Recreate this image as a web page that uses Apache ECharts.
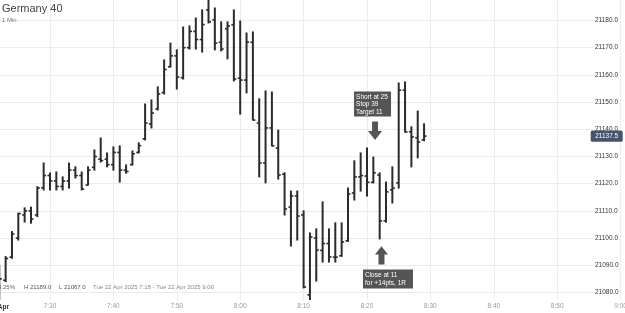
<!DOCTYPE html>
<html><head><meta charset="utf-8">
<script src="https://cdn.jsdelivr.net/npm/echarts@6/dist/echarts.min.js"></script>
<style>html,body{margin:0;padding:0;background:#fff}#c{width:625px;height:313px}</style>
</head><body><div id="c"></div>
<script>
// minutes after 7:00 (22 = 7:22 ... 89 = 8:29)
const minutes = [22,23,24,25,26,27,28,29,30,31,32,33,34,35,36,37,38,39,40,41,42,43,44,45,46,47,48,49,50,51,52,53,54,55,56,57,58,59,60,61,62,63,64,65,66,67,68,69,70,71,72,73,74,75,76,77,78,79,80,81,82,83,84,85,86,87,88,89];
const opens  = [21072,21084.5,21093,21100,21108.5,21110,21108.5,21118.5,21123,21121,21119,21121,21125,21123,21119.5,21126,21129,21129,21127,21131.5,21125,21127,21131.5,21136.5,21142,21147.5,21153.5,21163,21167,21159,21170,21176,21173,21183.9,21180.2,21172,21177,21178.4,21158.8,21158.1,21172,21142.3,21127.6,21140.5,21133.1,21123.5,21111.4,21115.5,21108.5,21079.1,21100,21095.5,21098,21093,21093.5,21099,21116.6,21122.5,21122.8,21120.5,21123.2,21106.3,21117.7,21120.3,21154.4,21139.1,21136.9,21136.1];
const highs  = [21090,21093.2,21102.4,21109.2,21111.1,21111.4,21118.9,21127.6,21123.9,21124.3,21122.5,21127.6,21126.2,21124.3,21126.2,21132.4,21136.8,21131.3,21133.5,21133.9,21126.9,21132,21135,21149.3,21150.8,21155.6,21165.5,21171.7,21169.2,21177.6,21178,21180.9,21183.9,21189,21184.6,21179.5,21179.5,21183.9,21179.8,21175.4,21175.8,21151.2,21154.1,21153.7,21139.7,21124,21117.3,21117.3,21110,21101.9,21103.4,21113.3,21103.4,21105.6,21105.6,21118.4,21128.4,21131.3,21133.1,21129.8,21124,21120.6,21126.2,21157,21157.4,21140.9,21146.7,21142];
const lows   = [21067,21084,21092.6,21099.3,21105.9,21105.5,21107.9,21117.7,21117.7,21117.7,21117.7,21118.4,21122.1,21117.7,21119.5,21125,21128,21126.2,21125,21120.6,21123.9,21126.9,21131.3,21136.1,21140.5,21147.1,21153,21162.9,21154.8,21158.5,21169.5,21169.5,21168.4,21179.1,21169.2,21168.8,21165.9,21157.8,21145.6,21153.4,21143.4,21122.5,21120.3,21133.9,21121.7,21108.5,21097.1,21099.3,21081.7,21077,21084.2,21091.2,21091.2,21091.2,21093.3,21098.8,21114,21117.3,21115.5,21120.3,21099.7,21105.9,21112.9,21118.4,21139,21126.2,21129.5,21135.8];
const closes = [21085,21092.5,21101.5,21109,21110,21107,21118.4,21123,21121,21119,21121,21125,21123,21118,21125,21130,21128.5,21127,21131.5,21125,21124.5,21131,21134,21142.3,21146,21153,21162,21167,21159.2,21170,21176,21173,21178.5,21179.5,21171.7,21169.5,21178,21158.5,21158.1,21172.1,21143.4,21127.6,21140.5,21133.9,21123.2,21110.7,21115.5,21108.1,21082,21100.4,21095.6,21098,21093.1,21093,21098.6,21116.2,21122.5,21123,21120.5,21124,21106.3,21117,21118.4,21154.4,21139,21137.2,21135.3,21137.5];
const lastPrice = 21137.5;
const statsText = ['+0.25%', 'H 21189.0', 'L 21067.0', 'Tue 22 Apr 2025 7:18 - Tue 22 Apr 2025 9:00'];
const shortNote = ['Short at 25', 'Stop 39', 'Target 11'];
const closeNote = ['Close at 11', 'for +14pts, 1R'];
const shortAt = [81, 21136.1];   // arrow tip above 8:21 bar
const closeAt = [82, 21097.0];   // arrow tip below 8:22 bar

const FONT = '"Liberation Sans", Arial, sans-serif';
const data = minutes.map((m, i) => [m, opens[i], highs[i], lows[i], closes[i]]);

const pxPerPt = 2.72, y180 = 20.5, plotH = 300;
const yMax = 21180 + y180 / pxPerPt;
const yMin = 21180 - (plotH - y180) / pxPerPt;
const pxPerMin = 6.34, x730 = 50;
const gridLeft = x730 - 30 * pxPerMin;

function fmtTime(v) {
  const h = 7 + Math.floor(v / 60), m = v % 60;
  return h + ':' + (m < 10 ? '0' + m : m);
}

const chart = echarts.init(document.getElementById('c'), null, {renderer: 'canvas'});
chart.setOption({
  animation: false,
  backgroundColor: '#fff',
  grid: [
    {left: gridLeft, top: 0, width: 130 * pxPerMin, height: plotH, containLabel: false, outerBoundsMode: 'none'},
    {left: 0, top: y180 - 10 * pxPerPt, width: 593, height: 12 * 10 * pxPerPt, containLabel: false, outerBoundsMode: 'none'}
  ],
  xAxis: [
    {type: 'value', gridIndex: 0, min: 0, max: 130, interval: 10,
     axisLine: {show: false}, axisTick: {show: false},
     splitLine: {show: true, lineStyle: {color: '#ececec', width: 1}},
     axisLabel: {formatter: fmtTime, color: '#9a9a9a', fontSize: 6.5, fontFamily: FONT, margin: 3}},
    {type: 'value', gridIndex: 1, min: 0, max: 1, show: false}
  ],
  yAxis: [
    {type: 'value', gridIndex: 0, min: yMin, max: yMax, show: false, splitLine: {show: false}},
    {type: 'value', gridIndex: 1, position: 'right', min: 21070, max: 21190, interval: 10,
     axisLine: {show: false}, axisTick: {show: false},
     splitLine: {show: true, lineStyle: {color: '#ececec', width: 1}},
     axisLabel: {showMinLabel: false, showMaxLabel: false, formatter: v => v.toFixed(1),
       color: '#333', fontSize: 6.5, fontFamily: FONT, margin: 2, align: 'left'}}
  ],
  series: [{
    type: 'custom', xAxisIndex: 0, yAxisIndex: 0, clip: true,
    data: data,
    encode: {x: 0, y: [1, 2, 3, 4]},
    renderItem: function (params, api) {
      const t = api.value(0);
      const pO = api.coord([t, api.value(1)]);
      const pH = api.coord([t, api.value(2)]);
      const pL = api.coord([t, api.value(3)]);
      const pC = api.coord([t, api.value(4)]);
      const style = {stroke: '#2b2b2b', lineWidth: 2, fill: null};
      const tick = {stroke: '#2b2b2b', lineWidth: 1.6, fill: null};
      return {type: 'group', children: [
        {type: 'line', shape: {x1: pH[0], y1: pH[1] - 0.5, x2: pL[0], y2: pL[1] + 0.5}, style: style},
        {type: 'line', shape: {x1: pO[0] - 2.5, y1: pO[1], x2: pO[0], y2: pO[1]}, style: tick},
        {type: 'line', shape: {x1: pC[0], y1: pC[1], x2: pC[0] + 2.5, y2: pC[1]}, style: tick}
      ]};
    }
  }]
});

const pLast = chart.convertToPixel({gridIndex: 0}, [89, lastPrice]);
const pS = chart.convertToPixel({gridIndex: 0}, shortAt);
const pC = chart.convertToPixel({gridIndex: 0}, closeAt);
const sx = pS[0] + 1.7, sy = pS[1];
const cx = pC[0] + 1.8, cy = pC[1];
const noteColor = '#555555';

chart.setOption({
  graphic: [
    {type: 'text', left: 2, top: 3, style: {text: 'Germany 40', fill: '#444', font: '11px ' + FONT}},
    {type: 'text', left: 2, top: 17, style: {text: '1 Min', fill: '#777', font: '6px ' + FONT}},
    {type: 'text', x: 15, y: 287.7, style: {text: statsText[0], fill: '#666', font: '6px ' + FONT, textAlign: 'right', textVerticalAlign: 'middle'}},
    {type: 'text', x: 24, y: 287.7, style: {text: statsText[1], fill: '#555', font: '6px ' + FONT, textVerticalAlign: 'middle'}},
    {type: 'text', x: 59, y: 287.7, style: {text: statsText[2], fill: '#555', font: '6px ' + FONT, textVerticalAlign: 'middle'}},
    {type: 'text', x: 93, y: 287.7, style: {text: statsText[3], fill: '#888', font: '6px ' + FONT, textVerticalAlign: 'middle'}},
    {type: 'text', x: 9, y: 307, style: {text: '22 Apr', fill: '#333', font: 'bold 6.5px ' + FONT, textAlign: 'right', textVerticalAlign: 'middle'}},
    // last price tag
    {type: 'rect', shape: {x: 590.7, y: pLast[1] - 5.7, width: 32, height: 11.4, r: 1.5}, style: {fill: '#45546f'}, z: 100},
    {type: 'text', x: 606.7, y: pLast[1], style: {text: lastPrice.toFixed(1), fill: '#fff', font: '6.5px ' + FONT, textAlign: 'center', textVerticalAlign: 'middle'}, z: 101},
    // short note box + down arrow
    {type: 'rect', shape: {x: sx - 21, y: sy - 48.5, width: 37, height: 25}, style: {fill: noteColor}, z: 100},
    {type: 'text', x: sx - 19, y: sy - 47, style: {text: shortNote.join('\n'), fill: '#fff', font: '6.5px ' + FONT, lineHeight: 7.8}, z: 101},
    {type: 'polygon', shape: {points: [[sx - 3, sy - 18.3], [sx + 3, sy - 18.3], [sx + 3, sy - 9], [sx + 7, sy - 9], [sx, sy], [sx - 7, sy - 9], [sx - 3, sy - 9]]}, style: {fill: noteColor}, z: 100},
    // close note box + up arrow
    {type: 'polygon', shape: {points: [[cx, cy], [cx + 6.5, cy + 8.3], [cx + 3, cy + 8.3], [cx + 3, cy + 18.3], [cx - 3, cy + 18.3], [cx - 3, cy + 8.3], [cx - 6.5, cy + 8.3]]}, style: {fill: noteColor}, z: 100},
    {type: 'rect', shape: {x: cx - 18.5, y: cy + 23.3, width: 50, height: 19}, style: {fill: noteColor}, z: 100},
    {type: 'text', x: cx - 16.5, y: cy + 25, style: {text: closeNote.join('\n'), fill: '#fff', font: '6.5px ' + FONT, lineHeight: 7.8}, z: 101}
  ]
});
</script>
</body></html>
